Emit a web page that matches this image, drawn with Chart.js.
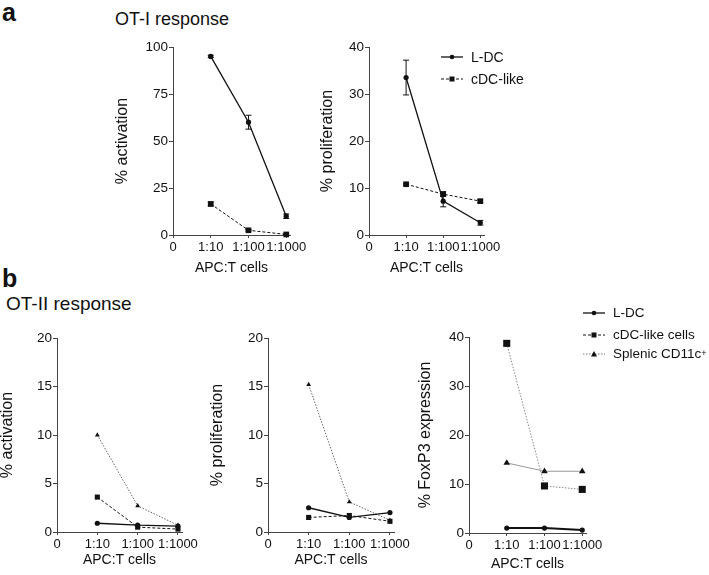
<!DOCTYPE html>
<html>
<head>
<meta charset="utf-8">
<script src="https://cdn.jsdelivr.net/npm/chart.js@4.4.1/dist/chart.umd.min.js"></script>
<style>
  html, body { margin: 0; padding: 0; background: #fff; }
  body { width: 709px; height: 575px; position: relative; overflow: hidden;
         font-family: "Liberation Sans", Arial, sans-serif; color: #111; }
  .box { position: absolute; }
  .lbl { position: absolute; white-space: nowrap; line-height: 1; }
  .leg { position: absolute; font-size: 14px; line-height: 1; white-space: nowrap; }
  .leg div { height: 22px; display: flex; align-items: center; }
  .leg svg { margin-right: 6px; }
</style>
</head>
<body>

<div class="lbl" style="left:2px;top:0px;font-size:25px;font-weight:bold;">a</div>
<div class="lbl" style="left:115px;top:10px;font-size:18px;">OT-I response</div>
<div class="lbl" style="left:2px;top:266px;font-size:25px;font-weight:bold;">b</div>
<div class="lbl" style="left:6px;top:294px;font-size:19px;">OT-II response</div>

<div class="box" id="wA1"><canvas id="cA1"></canvas></div>
<div class="box" id="wA2"><canvas id="cA2"></canvas></div>
<div class="box" id="wB1"><canvas id="cB1"></canvas></div>
<div class="box" id="wB2"><canvas id="cB2"></canvas></div>
<div class="box" id="wB3"><canvas id="cB3"></canvas></div>

<div class="leg" style="left:441px;top:46px;">
  <div><svg width="24" height="8"><line x1="0" y1="4" x2="22" y2="4" stroke="#111" stroke-width="1.3"/><circle cx="11" cy="4" r="2.3" fill="#111"/></svg>L-DC</div>
  <div><svg width="24" height="8"><line x1="0" y1="4" x2="22" y2="4" stroke="#111" stroke-width="1" stroke-dasharray="3,2"/><rect x="8.5" y="1.5" width="5" height="5" fill="#111"/></svg>cDC-like</div>
</div>

<div class="leg" style="left:583px;top:302px;font-size:13.5px;">
  <div><svg width="24" height="8"><line x1="0" y1="4" x2="22" y2="4" stroke="#111" stroke-width="1.3"/><circle cx="11" cy="4" r="2.3" fill="#111"/></svg>L-DC</div>
  <div style="height:21px"><svg width="24" height="8"><line x1="0" y1="4" x2="22" y2="4" stroke="#111" stroke-width="1" stroke-dasharray="3,2"/><rect x="8.5" y="1.5" width="5" height="5" fill="#111"/></svg>cDC-like cells</div>
  <div style="height:17px"><svg width="24" height="8"><line x1="0" y1="4" x2="22" y2="4" stroke="#777" stroke-width="1" stroke-dasharray="1.5,1.5"/><polygon points="11,1 14,6.5 8,6.5" fill="#111"/></svg>Splenic CD11c<sup style="font-size:9px;line-height:0;position:relative;top:-1px">+</sup></div>
</div>

<script>
/* ── categories / ticks ── */
var X_LABELS = ["0", "1:10", "1:100", "1:1000"];
var X_POS = [1, 2, 3];

/* ── a: OT-I response ── */
var A_ACT_LDC = [95, 60, 10];
var A_ACT_LDC_ERR = [0.6, 3.7, 1.2];
var A_ACT_CDC = [16.5, 2.5, 0.3];
var A_ACT_CDC_ERR = [1.0, 0.4, 0.3];

var A_PRO_LDC = [33.5, 7.2, 2.6];
var A_PRO_LDC_ERR = [3.7, 1.2, 0.5];
var A_PRO_CDC = [10.8, 8.7, 7.2];
var A_PRO_CDC_ERR = [0.2, 0.5, 0.3];

/* ── b: OT-II response ── */
var B_ACT_LDC = [0.9, 0.7, 0.6];
var B_ACT_CDC = [3.6, 0.5, 0.3];
var B_ACT_SPL = [10, 2.7, 0.7];

var B_PRO_LDC = [2.5, 1.5, 2.0];
var B_PRO_CDC = [1.5, 1.7, 1.1];
var B_PRO_SPL = [15.2, 3.1, 1.2];

var B_FOX_LDC = [1.0, 1.0, 0.6];
var B_FOX_CDC = [38.7, 9.6, 8.9];
var B_FOX_SPL = [14.3, 12.6, 12.6];

var FONT = "'Liberation Sans', Arial, sans-serif";
var AXIS = "#444";

function pts(vals) {
  return vals.map(function (v, i) { return { x: X_POS[i], y: v }; });
}

/* error bars drawn through the y scale */
var errorBars = {
  id: "errorBars",
  afterDatasetsDraw: function (chart) {
    var ctx = chart.ctx, ys = chart.scales.y;
    chart.data.datasets.forEach(function (ds, di) {
      if (!ds.errors) return;
      var meta = chart.getDatasetMeta(di);
      ctx.save();
      ctx.strokeStyle = "#111";
      ctx.lineWidth = 1;
      meta.data.forEach(function (p, i) {
        var e = ds.errors[i], v = ds.data[i].y;
        if (!e) return;
        var top = ys.getPixelForValue(v + e), bot = ys.getPixelForValue(v - e);
        ctx.beginPath();
        ctx.moveTo(p.x, top); ctx.lineTo(p.x, bot);
        ctx.moveTo(p.x - 3, top); ctx.lineTo(p.x + 3, top);
        ctx.moveTo(p.x - 3, bot); ctx.lineTo(p.x + 3, bot);
        ctx.stroke();
      });
      ctx.restore();
    });
  }
};

function series(vals, kind, opt) {
  opt = opt || {};
  var base = {
    data: pts(vals),
    borderColor: opt.color || "#111",
    borderWidth: opt.width || 1.2,
    borderDash: opt.dash || [],
    pointBackgroundColor: "#111",
    pointBorderColor: "#111",
    pointBorderWidth: 0,
    tension: 0,
    clip: false,
    errors: opt.errors || null
  };
  if (kind === "c") { base.pointStyle = "circle"; base.pointRadius = opt.r || 2.6; }
  if (kind === "s") { base.pointStyle = "rect"; base.pointRadius = opt.r || 4; }
  if (kind === "t") { base.pointStyle = "triangle"; base.pointRadius = opt.r || 3.2; }
  return base;
}

function build(id, wrapId, g, datasets) {
  var w = document.getElementById(wrapId);
  w.style.left = g.left + "px"; w.style.top = g.top + "px";
  w.style.width = g.w + "px"; w.style.height = g.h + "px";
  new Chart(document.getElementById(id), {
    type: "line",
    data: { datasets: datasets },
    options: {
      responsive: true,
      maintainAspectRatio: false,
      animation: false,
      layout: { padding: { top: 10, right: 20, left: 0, bottom: 0 } },
      plugins: { legend: { display: false }, tooltip: { enabled: false } },
      scales: {
        x: {
          type: "linear", min: 0, max: g.xMax,
          afterFit: function (s) { s.height = g.xH; },
          border: { color: AXIS, width: 1 },
          grid: { drawOnChartArea: false, drawTicks: true, tickLength: 3, color: AXIS },
          ticks: {
            stepSize: 1, includeBounds: false, autoSkip: false,
            maxRotation: 0, minRotation: 0, padding: 2,
            color: "#111", font: { family: FONT, size: 13 },
            callback: function (v) { return X_LABELS[v] !== undefined ? X_LABELS[v] : ""; }
          },
          title: { display: true, text: "APC:T cells", color: "#111",
                   font: { family: FONT, size: 14 }, padding: { top: 0, bottom: g.xtPad } }
        },
        y: {
          min: 0, max: g.yMax,
          afterFit: function (s) { s.width = g.yW; },
          border: { color: AXIS, width: 1 },
          grid: { drawOnChartArea: false, drawTicks: true, tickLength: 4, color: AXIS },
          ticks: { stepSize: g.yStep, padding: 1, color: "#111",
                   font: { family: FONT, size: 13.5 } },
          title: { display: true, text: g.yTitle, color: "#111",
                   font: { family: FONT, size: 16, lineHeight: 1 }, padding: { top: g.ytPad, bottom: 0 } }
        }
      }
    },
    plugins: [errorBars]
  });
}

build("cA1", "wA1",
  { left: 111, top: 37, w: 199, h: 244, xH: 46, yW: 62, xMax: 3.1, yMax: 100, yStep: 25,
    yTitle: "% activation", ytPad: 4, xtPad: 4 },
  [ series(A_ACT_LDC, "c", { errors: A_ACT_LDC_ERR, width: 1.3 }),
    series(A_ACT_CDC, "s", { errors: A_ACT_CDC_ERR, dash: [3, 2], width: 1 }) ]);

build("cA2", "wA2",
  { left: 316, top: 37, w: 188, h: 244, xH: 46, yW: 53, xMax: 3.1, yMax: 40, yStep: 10,
    yTitle: "% proliferation", ytPad: 4, xtPad: 4 },
  [ series(A_PRO_LDC, "c", { errors: A_PRO_LDC_ERR, width: 1.3 }),
    series(A_PRO_CDC, "s", { errors: A_PRO_CDC_ERR, dash: [3, 2], width: 1 }) ]);

build("cB1", "wB1",
  { left: 0, top: 328, w: 202, h: 244, xH: 40, yW: 57, xMax: 3.1, yMax: 20, yStep: 5,
    yTitle: "% activation", ytPad: 0, xtPad: 3 },
  [ series(B_ACT_LDC, "c", { width: 1.3 }),
    series(B_ACT_CDC, "s", { dash: [3, 2], width: 1, r: 3.6 }),
    series(B_ACT_SPL, "t", { dash: [1.5, 1.5], width: 1, color: "#666", r: 2.8 }) ]);

build("cB2", "wB2",
  { left: 206, top: 328, w: 208, h: 244, xH: 40, yW: 62, xMax: 3.1, yMax: 20, yStep: 5,
    yTitle: "% proliferation", ytPad: 4, xtPad: 3 },
  [ series(B_PRO_LDC, "c", { width: 1.3 }),
    series(B_PRO_CDC, "s", { dash: [3, 2], width: 1, r: 3.6 }),
    series(B_PRO_SPL, "t", { dash: [1.5, 1.5], width: 1, color: "#666", r: 2.8 }) ]);

build("cB3", "wB3",
  { left: 414, top: 327, w: 192, h: 247, xH: 41, yW: 55, xMax: 3.1, yMax: 40, yStep: 10,
    yTitle: "% FoxP3 expression", ytPad: 4, xtPad: 1 },
  [ series(B_FOX_LDC, "c", { width: 2 }),
    series(B_FOX_CDC, "s", { dash: [1.5, 1.5], width: 1, color: "#888", r: 5 }),
    series(B_FOX_SPL, "t", { width: 1, color: "#999", r: 3.8 }) ]);
</script>
</body>
</html>
